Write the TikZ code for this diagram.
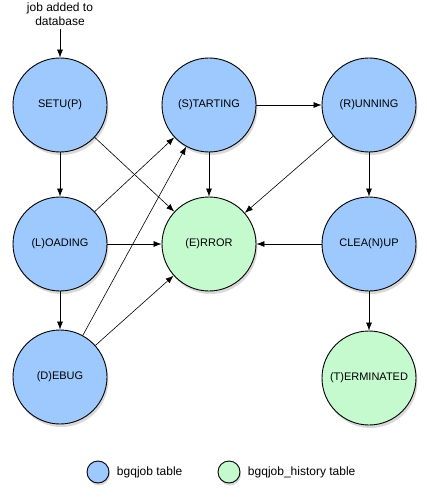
\documentclass[tikz,border=0pt]{standalone}
\usepackage{fontspec}
\setmainfont{Liberation Sans}
\usetikzlibrary{shapes.geometric, arrows.meta, positioning, shadows}
\definecolor{jobblue}{RGB}{158,201,255}
\definecolor{histgreen}{RGB}{197,250,207}
\tikzstyle{state} = [circle, minimum size=94pt, inner sep=0pt, text centered, draw=black, line width=0.9pt, fill=jobblue, font=\fontsize{11}{13}\selectfont, drop shadow={opacity=0.3, shadow xshift=1.5pt, shadow yshift=-3pt}]
\tikzstyle{history} = [state, fill=histgreen]
\tikzstyle{key} = [circle, minimum size=22pt, inner sep=0pt, draw=black, line width=0.9pt, drop shadow={opacity=0.3, shadow xshift=1pt, shadow yshift=-2.5pt}]
\tikzstyle{label} = [font=\fontsize{12}{14.5}\selectfont, align=center]
\tikzstyle{arrow} = [line width=0.6pt,->,>={Latex[length=8pt,width=6pt]}]
\begin{document}
\begin{tikzpicture}[node distance=139pt]
        \useasboundingbox (0,0) rectangle (426pt,-497pt);
        \node (setup) [state] at (60pt,-105pt) {SETU(P)};
        \node (starting) [state, node distance=149pt, right of=setup] {(S)TARTING};
        \node (running) [state, node distance=160pt, right of=starting] {(R)UNNING};
        \node (loading) [state, below of=setup] {(L)OADING};
        \node (error) [history, node distance=149pt, right of=loading] {(E)RROR};
        \node (cleanup) [state, node distance=160pt, right of=error] {CLEA(N)UP};
        \node (debug) [state, node distance=133pt, below of=loading] {(D)EBUG};
        \node (terminated) [history, node distance=134pt, below of=cleanup] {(T)ERMINATED};
        \node (added) [label] at (60pt,-14pt) {job added to\\database};

        \node (keyjob) [key, fill=jobblue] at (98pt,-472pt) {};
        \node (keyjobtext) [label, right=4pt of keyjob] {bgqjob table};
        \node (keyhist) [key, fill=histgreen] at (229pt,-472pt) {};
        \node (keyhisttext) [label, right=4pt of keyhist] {bgqjob\_history table};

        \draw [arrow] (added) -- (setup);
        \draw [arrow] (setup) -- (loading);
        \draw [arrow] (setup) -- (error);
        \draw [arrow] (starting) -- (running);
        \draw [arrow] (starting) -- (error);
        \draw [arrow] (running) -- (error);
        \draw [arrow] (running) -- (cleanup);
        \draw [arrow] (cleanup) -- (error);
        \draw [arrow] (cleanup) -- (terminated);
        \draw [arrow] (loading) -- (starting);
        \draw [arrow] (loading) -- (error);
        \draw [arrow] (loading) -- (debug);
        \draw [arrow] (debug) -- (starting);
        \draw [arrow] (debug) -- (error);
    \end{tikzpicture}
\end{document}
